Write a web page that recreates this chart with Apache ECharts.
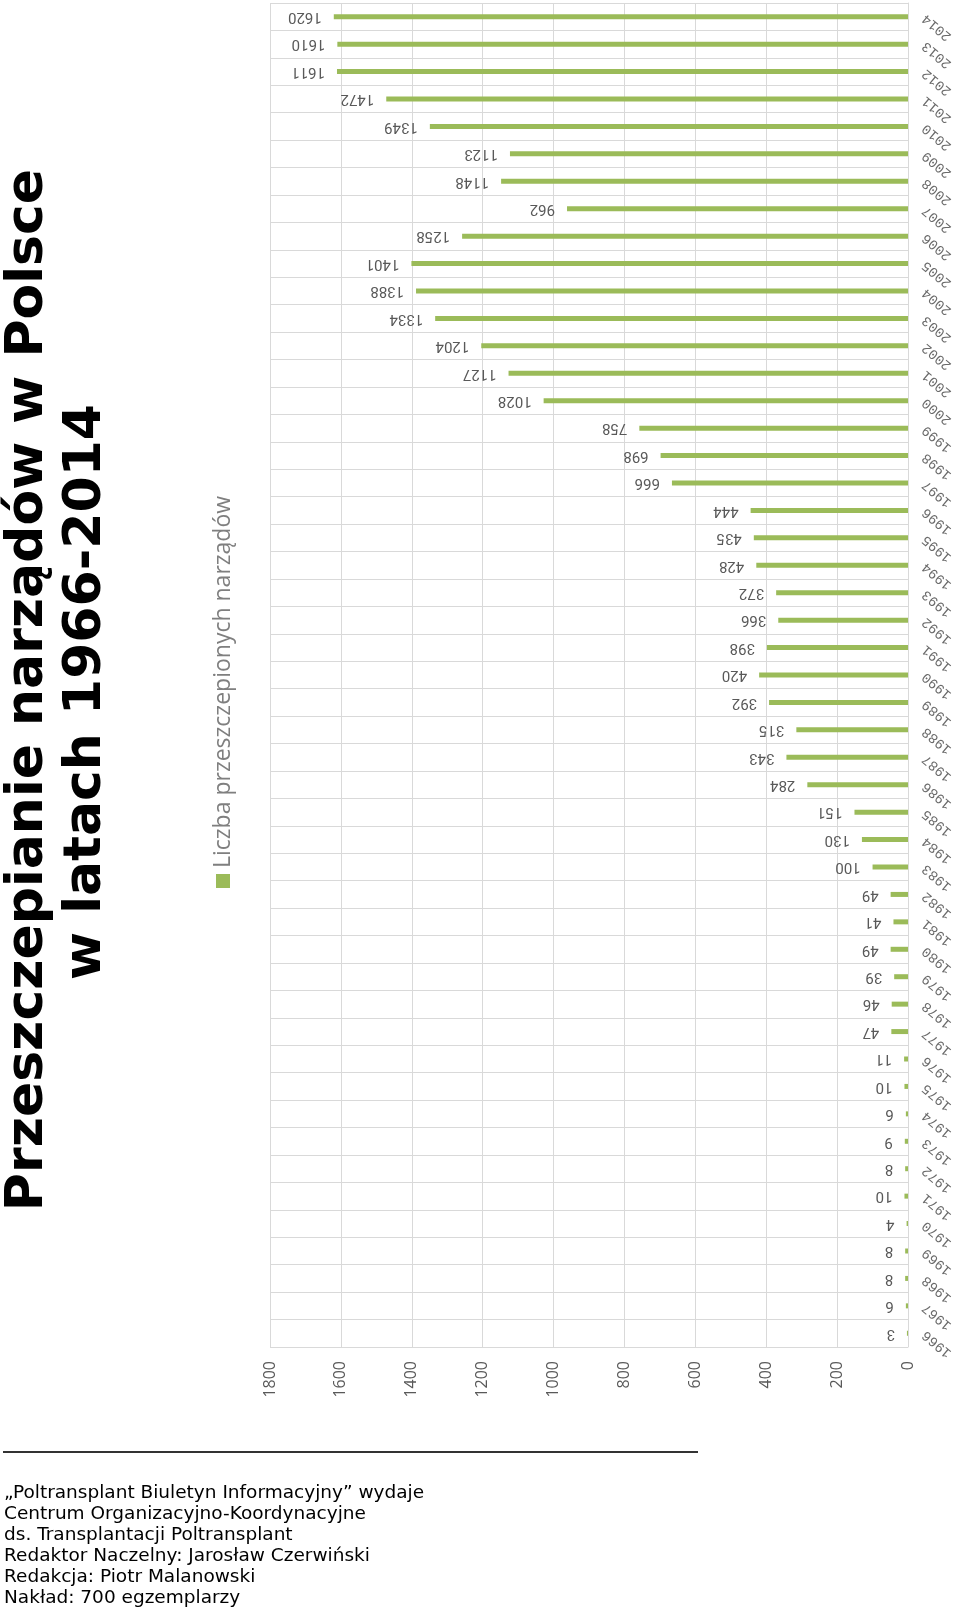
<!DOCTYPE html>
<html>
<head>
<meta charset="utf-8">
<script src="https://cdn.jsdelivr.net/npm/echarts@6/dist/echarts.min.js"></script>
<style>
html,body{margin:0;padding:0;background:#fff;}
#chart{width:960px;height:1614px;}
</style>
</head>
<body>
<div id="chart"></div>
<script>
const years = ['1966','1967','1968','1969','1970','1971','1972','1973','1974','1975','1976','1977','1978','1979','1980','1981','1982','1983','1984','1985','1986','1987','1988','1989','1990','1991','1992','1993','1994','1995','1996','1997','1998','1999','2000','2001','2002','2003','2004','2005','2006','2007','2008','2009','2010','2011','2012','2013','2014'];
const transplants = [3,6,8,8,4,10,8,9,6,10,11,47,46,39,49,41,49,100,130,151,284,343,315,392,420,398,366,372,428,435,444,666,698,758,1028,1127,1204,1334,1388,1401,1258,962,1148,1123,1349,1472,1611,1610,1620];
const valueTicks = {min: 0, max: 1800, interval: 200};
const titleLines = ['Przeszczepianie narządów w Polsce', 'w latach 1966-2014'];
const legendText = 'Liczba przeszczepionych narządów';
const footerLines = [
  '\u201EPoltransplant Biuletyn Informacyjny\u201D wydaje',
  'Centrum Organizacyjno-Koordynacyjne',
  'ds. Transplantacji Poltransplant',
  'Redaktor Naczelny: Jarosław Czerwiński',
  'Redakcja: Piotr Malanowski',
  'Nakład: 700 egzemplarzy'
];

const chart = echarts.init(document.getElementById('chart'), null, {renderer: 'canvas'});

const graphics = [];
graphics.push({
  type: 'text', x: 28, y: 690, rotation: Math.PI / 2,
  style: {text: titleLines[0], font: 'bold 52px "DejaVu Sans"', fill: '#000', align: 'center', verticalAlign: 'middle'}
});
graphics.push({
  type: 'text', x: 86, y: 692, rotation: Math.PI / 2,
  style: {text: titleLines[1], font: 'bold 52px "DejaVu Sans"', fill: '#000', align: 'center', verticalAlign: 'middle'}
});
graphics.push({
  type: 'rect', shape: {x: 216, y: 874, width: 14, height: 14},
  style: {fill: '#9bbb59'}
});
graphics.push({
  type: 'text', x: 223, y: 868, rotation: Math.PI / 2,
  style: {text: legendText, font: '23px "Open Sans"', fill: '#7f7f7f', align: 'left', verticalAlign: 'middle'}
});
graphics.push({
  type: 'line', shape: {x1: 3, y1: 1452, x2: 698, y2: 1452},
  style: {stroke: '#333', lineWidth: 2}
});
footerLines.forEach(function (t, i) {
  graphics.push({
    type: 'text', x: 4, y: 1493 + i * 21,
    style: {text: t, font: '18.5px "DejaVu Sans"', fill: '#000', align: 'left', verticalAlign: 'middle'}
  });
});

chart.setOption({
  animation: false,
  backgroundColor: '#fff',
  grid: {left: 270, right: 52, top: 3, bottom: 267, containLabel: false},
  xAxis: {
    type: 'value', inverse: true,
    min: valueTicks.min, max: valueTicks.max, interval: valueTicks.interval,
    axisLine: {show: false},
    axisTick: {show: false},
    axisLabel: {rotate: 90, color: '#595959', fontSize: 16, fontFamily: 'Open Sans', margin: 14,
      formatter: function (v) { return String(v); }},
    splitLine: {show: true, lineStyle: {color: '#d9d9d9', width: 1}}
  },
  yAxis: {
    type: 'category', position: 'right', data: years,
    axisLine: {show: true, lineStyle: {color: '#d9d9d9'}},
    axisTick: {show: false},
    axisLabel: {rotate: 140, color: '#6a6a6a', fontSize: 14, fontFamily: 'Liberation Mono', margin: 16, interval: 0},
    splitLine: {show: true, lineStyle: {color: '#d9d9d9', width: 1}}
  },
  series: [{
    type: 'bar', data: transplants, barWidth: 5,
    itemStyle: {color: '#9bbb59'},
    label: {
      show: true, position: 'left', distance: 12, rotate: 180,
      align: 'left', verticalAlign: 'middle',
      color: '#595959', fontSize: 15, fontFamily: 'Roboto'
    }
  }],
  graphic: graphics
});
</script>
</body>
</html>
